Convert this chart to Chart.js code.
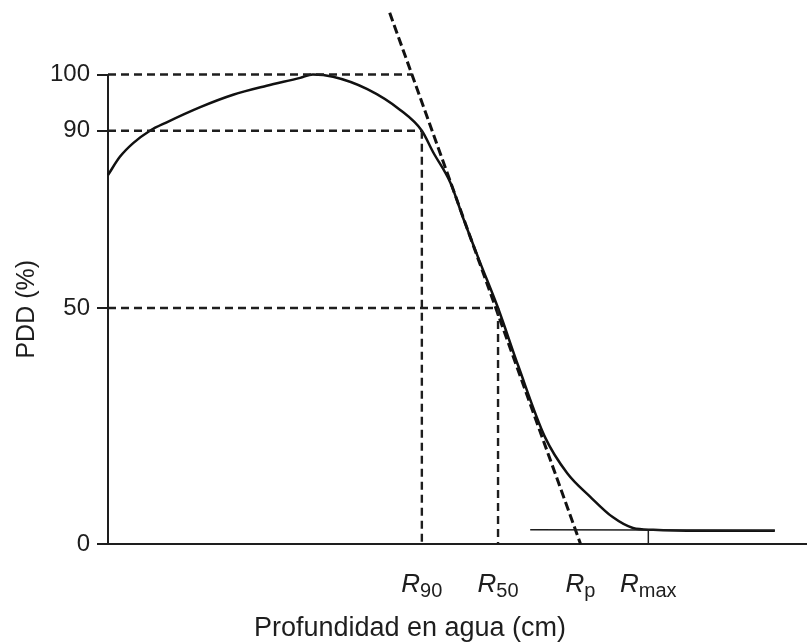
<!DOCTYPE html>
<html>
<head>
<meta charset="utf-8">
<script src="https://cdn.jsdelivr.net/npm/chart.js@4/dist/chart.umd.min.js"></script>
<style>
  body { margin: 0; background: #fff; }
  canvas { display: block; }
</style>
</head>
<body>
<canvas id="pddChart" width="807" height="643"></canvas>
<script>
// depth dose curve
var depth = [0, 0.17, 0.36, 0.60, 0.84, 1.32, 1.79, 2.27, 2.75, 2.93, 3.22, 3.71, 4.18, 4.49, 4.65, 4.90, 5.09, 5.31, 5.58, 5.87, 6.25, 6.57, 6.90, 7.22, 7.51, 7.80, 8.47, 9.54];
var pdd   = [80.0, 84.1, 87.2, 90, 91.5, 94.2, 96.4, 98.0, 99.4, 100, 99.6, 97.4, 93.7, 90, 85.2, 78.2, 69.9, 60.8, 50, 37.7, 22.7, 15.0, 10.0, 5.7, 3.4, 3.0, 2.8, 2.8];

// tangent through R50, reaching the axis at Rp
var tangentDepth = [4.03, 6.76];
var tangentPdd = [111, 0];

// bremsstrahlung tail line
var tailDepth = [6.04, 9.54];
var tailPdd = [3.0, 2.9];

// marked ranges on the x axis
var rNames = ['90', '50', 'p', 'max'];
var rDepth = [4.49, 5.58, 6.76, 7.73];
var tangentAt100 = 4.35;

var yTicks = [0, 50, 90, 100];

var ink = '#1e1e1e';
var font = '"Liberation Sans", Arial, sans-serif';

// the printed axis is not evenly spaced: where each tick sits along the axis (0..1)
var tickSpots = [0, 0.5027, 0.8803, 1];

function toDecimal(v) {
    var i = 1;
    while (i < yTicks.length - 1 && v > yTicks[i]) i++;
    var a = yTicks[i - 1], b = yTicks[i];
    return tickSpots[i - 1] + (v - a) * (tickSpots[i] - tickSpots[i - 1]) / (b - a);
}

class PddScale extends Chart.LinearScale {
    getPixelForValue(value) {
        return this.getPixelForDecimal(toDecimal(value));
    }
}
PddScale.id = 'pdd';
PddScale.defaults = Chart.LinearScale.defaults;
Chart.register(PddScale);

function pts(xs, ys) {
    return xs.map(function (x, i) { return { x: x, y: ys[i] }; });
}

// dashed guides: 100 -> tangent, 90 -> R90, 50 -> R50, and the drops to the axis
var guides = [
    pts([0, tangentAt100], [100, 100]),
    pts([0, rDepth[0]], [90, 90]),
    pts([0, rDepth[1]], [50, 50]),
    pts([rDepth[0], rDepth[0]], [90, 0]),
    pts([rDepth[1], rDepth[1]], [50, 0])
];

var datasets = guides.map(function (g) {
    return { data: g, borderColor: ink, borderWidth: 2.4, borderDash: [8, 5], pointRadius: 0, showLine: true, clip: false };
});
datasets.push({ data: pts(tailDepth, tailPdd), borderColor: ink, borderWidth: 1.5, pointRadius: 0, showLine: true });
datasets.push({ data: pts([rDepth[3], rDepth[3]], [tailPdd[0] - 0.2, 0]), borderColor: ink, borderWidth: 1.5, pointRadius: 0, showLine: true });
datasets.push({ data: pts(depth, pdd), borderColor: '#111', borderWidth: 2.5, pointRadius: 0, showLine: true, cubicInterpolationMode: 'monotone', clip: false });
datasets.push({ data: pts(tangentDepth, tangentPdd), borderColor: '#111', borderWidth: 3, borderDash: [9, 4], pointRadius: 0, showLine: true, clip: false });

// R labels with subscripts and the x title
var labelPlugin = {
    id: 'rLabels',
    afterDraw: function (chart) {
        var ctx = chart.ctx;
        var xs = chart.scales.x;
        ctx.save();
        ctx.fillStyle = ink;
        ctx.textBaseline = 'alphabetic';
        rNames.forEach(function (name, i) {
            var cx = xs.getPixelForValue(rDepth[i]);
            ctx.font = 'italic 26px ' + font;
            var wR = ctx.measureText('R').width;
            ctx.font = '20px ' + font;
            var wS = ctx.measureText(name).width;
            var x0 = cx - (wR + wS) / 2;
            ctx.textAlign = 'left';
            ctx.font = 'italic 26px ' + font;
            ctx.fillText('R', x0, 592);
            ctx.font = '20px ' + font;
            ctx.fillText(name, x0 + wR, 597);
        });
        ctx.font = '27px ' + font;
        ctx.textAlign = 'center';
        ctx.fillText('Profundidad en agua (cm)', 410, 636);
        ctx.restore();
    }
};

var ctx1 = document.getElementById('pddChart').getContext('2d');
var pddChart = new Chart(ctx1, {
    type: 'scatter',
    data: { datasets: datasets },
    options: {
        responsive: false,
        animation: false,
        layout: { padding: { top: 74.5, right: 0, left: 0, bottom: 0 } },
        plugins: {
            legend: { display: false },
            tooltip: { enabled: false }
        },
        scales: {
            x: {
                type: 'linear',
                min: 0,
                max: 10,
                grid: { drawOnChartArea: false, drawTicks: false },
                border: { display: true, color: ink, width: 2 },
                ticks: { display: false },
                afterFit: function (s) { s.height = 99; }
            },
            y: {
                type: 'pdd',
                min: 0,
                max: 100,
                afterBuildTicks: function (s) {
                    s.ticks = yTicks.map(function (v) { return { value: v }; });
                },
                grid: { drawOnChartArea: false, drawTicks: true, tickLength: 11, color: ink, lineWidth: 2 },
                border: { display: true, color: ink, width: 2 },
                ticks: { color: ink, padding: 7, font: { size: 24, family: font } },
                title: {
                    display: true,
                    text: 'PDD (%)',
                    color: ink,
                    font: { size: 25, family: font },
                    padding: { top: 12, bottom: 0 }
                },
                afterFit: function (s) { s.width = 108; }
            }
        }
    },
    plugins: [labelPlugin]
});
</script>
</body>
</html>
